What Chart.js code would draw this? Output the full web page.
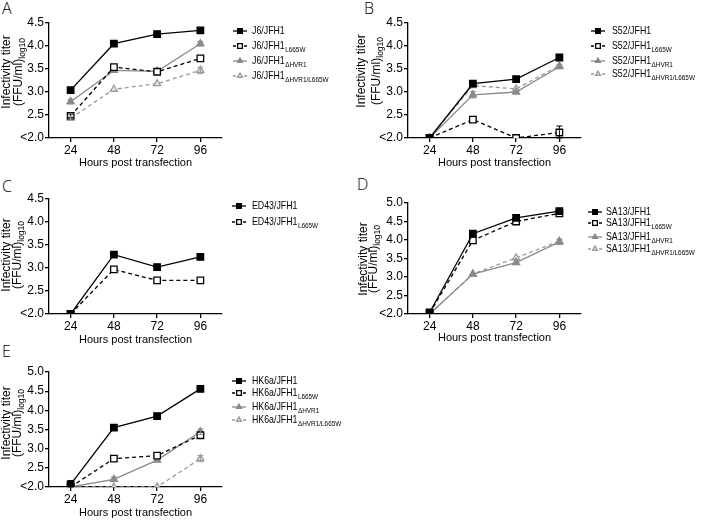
<!DOCTYPE html>
<html>
<head>
<meta charset="utf-8">
<script src="https://cdn.jsdelivr.net/npm/chart.js@4"></script>
<style>
  body { margin: 0; background: #fff; width: 704px; height: 520px; position: relative; overflow: hidden;
         font-family: 'Liberation Sans', Arial, sans-serif; }
  canvas { position: absolute; }
  .tag { position: absolute; font-family: 'Open Sans', 'Liberation Sans', sans-serif; font-weight: 300;
         font-size: 16px; line-height: 18px; color: #000; }
</style>
</head>
<body>
<div class="tag" style="left:2px;top:-1px">A</div>
<div class="tag" style="left:364px;top:-1px">B</div>
<div class="tag" style="left:2px;top:177px">C</div>
<div class="tag" style="left:357px;top:175px">D</div>
<div class="tag" style="left:2px;top:342px">E</div>

<canvas id="chartA" width="352" height="170" style="left:0;top:0"></canvas>
<canvas id="chartB" width="352" height="170" style="left:352px;top:0"></canvas>
<canvas id="chartC" width="352" height="177" style="left:0;top:170px"></canvas>
<canvas id="chartD" width="352" height="175" style="left:352px;top:170px"></canvas>
<canvas id="chartE" width="352" height="180" style="left:0;top:340px"></canvas>

<script>
// x positions (hours post transfection)
const hours = [24, 48, 72, 96];
const variantSubs = ['', 'L665W', '\u0394HVR1', '\u0394HVR1/L665W'];

// A: J6/JFH1
const aName = 'J6/JFH1';
const aWT = [3.04, 4.05, 4.26, 4.34];
const aL665W = [2.48, 3.54, 3.44, 3.73];
const aHVR1 = [2.79, 3.47, 3.45, 4.05];
const aHVR1L665W = [2.43, 3.06, 3.18, 3.47];
const aWTErr = [0, 0, 0, 0];
const aL665WErr = [0.04, 0, 0, 0];
const aHVR1Err = [0.05, 0, 0, 0.05];
const aHVR1L665WErr = [0.04, 0, 0, 0.07];

// B: S52/JFH1
const bName = 'S52/JFH1';
const bWT = [2.0, 3.18, 3.28, 3.75];
const bL665W = [2.0, 2.40, 2.0, 2.12];
const bHVR1 = [2.0, 2.94, 3.0, 3.55];
const bHVR1L665W = [2.0, 3.14, 3.07, 3.57];
const bWTErr = [0, 0, 0, 0.05];
const bL665WErr = [0, 0, 0, 0.14];
const bHVR1Err = [0, 0.07, 0, 0.04];
const bHVR1L665WErr = [0, 0, 0, 0];

// C: ED43/JFH1
const cName = 'ED43/JFH1';
const cWT = [2.0, 3.29, 3.02, 3.24];
const cL665W = [2.0, 2.97, 2.73, 2.73];

// D: SA13/JFH1
const dName = 'SA13/JFH1';
const dWT = [2.04, 4.17, 4.6, 4.78];
const dL665W = [2.02, 3.99, 4.5, 4.72];
const dHVR1 = [2.0, 3.08, 3.39, 3.95];
const dHVR1L665W = [2.0, 3.08, 3.52, 3.97];
const dHVR1Err = [0, 0, 0, 0.07];

// E: HK6a/JFH1
const eName = 'HK6a/JFH1';
const eWT = [2.07, 3.55, 3.85, 4.56];
const eL665W = [2.0, 2.74, 2.82, 3.35];
const eHVR1 = [2.0, 2.2, 2.7, 3.44];
const eHVR1L665W = [2.0, 2.0, 2.0, 2.74];
const eWTErr = [0.1, 0, 0, 0];
const eHVR1Err = [0, 0.06, 0, 0.07];
const eHVR1L665WErr = [0, 0, 0, 0.08];

const noErr = [0, 0, 0, 0];

// line / marker style of the four variants
const styles = [
  { color: '#000', fill: '#000', dash: [], shape: 'rect', r: 4.6 },
  { color: '#000', fill: '#fff', dash: [4, 3], shape: 'rect', r: 4.6 },
  { color: '#8a8a8a', fill: '#8a8a8a', dash: [], shape: 'triangle', r: 4 },
  { color: '#9a9a9a', fill: '#e4e4e4', dash: [4, 3], shape: 'triangle', r: 4 }
];

const FONT = "'Liberation Sans', Arial, sans-serif";

function makeDataset(name, idx, values, errors) {
  const s = styles[idx];
  return {
    label: name + variantSubs[idx],
    styleIdx: idx,
    name: name,
    data: hours.map((h, i) => ({ x: h, y: values[i] })),
    errors: errors,
    borderColor: s.color,
    borderWidth: 1.3,
    borderDash: s.dash,
    pointStyle: s.shape,
    pointRadius: s.r,
    pointBackgroundColor: s.fill,
    pointBorderColor: s.color,
    pointBorderWidth: 1.3,
    tension: 0
  };
}

// error bars, y-axis title with subscript, legend with subscripts
const extrasPlugin = {
  id: 'extras',
  afterDatasetsDraw(chart) {
    const ctx = chart.ctx;
    const yScale = chart.scales.y;
    chart.data.datasets.forEach((ds, di) => {
      const meta = chart.getDatasetMeta(di);
      meta.data.forEach((pt, i) => {
        const e = ds.errors[i];
        if (!e) return;
        const v = ds.data[i].y;
        const yTop = yScale.getPixelForValue(v + e);
        const yBot = yScale.getPixelForValue(Math.max(v - e, yScale.min));
        ctx.save();
        ctx.strokeStyle = ds.borderColor;
        ctx.lineWidth = 1;
        ctx.beginPath();
        ctx.moveTo(pt.x, yTop); ctx.lineTo(pt.x, yBot);
        ctx.moveTo(pt.x - 3, yTop); ctx.lineTo(pt.x + 3, yTop);
        ctx.moveTo(pt.x - 3, yBot); ctx.lineTo(pt.x + 3, yBot);
        ctx.stroke();
        ctx.restore();
      });
    });
  },
  afterDraw(chart, args, opts) {
    const ctx = chart.ctx;
    // y title
    ctx.save();
    ctx.fillStyle = '#000';
    ctx.textBaseline = 'middle';
    ctx.font = '12px ' + FONT;
    ctx.translate(opts.titleX1, opts.titleY);
    ctx.rotate(-Math.PI / 2);
    ctx.textAlign = 'center';
    ctx.fillText('Infectivity titer', 0, 0);
    ctx.restore();

    ctx.save();
    ctx.fillStyle = '#000';
    ctx.textBaseline = 'middle';
    ctx.translate(opts.titleX2, opts.titleY);
    ctx.rotate(-Math.PI / 2);
    ctx.font = '12px ' + FONT;
    const w1 = ctx.measureText('(FFU/ml)').width;
    ctx.font = '8.5px ' + FONT;
    const w2 = ctx.measureText('log10').width;
    const start = -(w1 + w2) / 2;
    ctx.textAlign = 'left';
    ctx.font = '12px ' + FONT;
    ctx.fillText('(FFU/ml)', start, 0);
    ctx.font = '8.5px ' + FONT;
    ctx.fillText('log10', start + w1, 3.5);
    ctx.restore();

    // legend
    chart.data.datasets.forEach((ds, i) => {
      const s = styles[ds.styleIdx];
      const sub = variantSubs[ds.styleIdx];
      const y = opts.legendY[i];
      const x = opts.legendX;
      ctx.save();
      ctx.strokeStyle = ds.borderColor;
      ctx.lineWidth = 1.3;
      ctx.setLineDash(s.dash.length ? [3, 2.5] : []);
      ctx.beginPath();
      ctx.moveTo(x - 7, y); ctx.lineTo(x + 7, y);
      ctx.stroke();
      ctx.setLineDash([]);
      ctx.fillStyle = s.fill;
      ctx.strokeStyle = s.color;
      Chart.helpers.drawPoint(ctx, { pointStyle: s.shape, radius: s.r * 0.72, borderWidth: 1.2, rotation: 0 }, x, y);
      // text, slightly condensed like the original figure
      ctx.translate(opts.textX, y);
      ctx.scale(0.8, 1);
      ctx.fillStyle = '#000';
      ctx.textBaseline = 'middle';
      ctx.textAlign = 'left';
      ctx.font = '11px ' + FONT;
      ctx.fillText(ds.name, 0, 0);
      if (sub) {
        const w = ctx.measureText(ds.name).width;
        ctx.font = '8px ' + FONT;
        ctx.fillText(sub, w + 0.5, 3.5);
      }
      ctx.restore();
    });
  }
};

function makePanel(id, datasets, yMax, geo) {
  new Chart(document.getElementById(id), {
    type: 'line',
    data: { datasets: datasets },
    plugins: [extrasPlugin],
    options: {
      responsive: false,
      animation: false,
      layout: { padding: { top: geo.padTop, right: geo.padRight, left: 0, bottom: 0 } },
      plugins: {
        legend: { display: false },
        tooltip: { enabled: false },
        extras: geo
      },
      scales: {
        x: {
          type: 'linear',
          min: 12,
          max: 108,
          afterBuildTicks: (scale) => { scale.ticks = hours.map(h => ({ value: h })); },
          afterFit: (scale) => { scale.height = geo.xHeight; },
          border: { color: '#000', width: 1.3 },
          grid: { drawOnChartArea: false, color: '#000', tickLength: 4, lineWidth: 1.3 },
          ticks: { color: '#000', font: { family: FONT, size: 12 }, padding: 1, maxRotation: 0 },
          title: { display: true, text: 'Hours post transfection', color: '#000',
                   font: { family: FONT, size: 11 }, padding: { top: 0, bottom: 0 } }
        },
        y: {
          min: 2,
          max: yMax,
          afterFit: (scale) => { scale.width = geo.yWidth; },
          border: { color: '#000', width: 1.3 },
          grid: { drawOnChartArea: false, color: '#000', tickLength: 4, lineWidth: 1.3 },
          ticks: {
            stepSize: 0.5,
            color: '#000',
            font: { family: FONT, size: 12 },
            padding: 1,
            callback: (v) => v === 2 ? '<2.0' : v.toFixed(1)
          }
        }
      }
    }
  });
}

makePanel('chartA', [
  makeDataset(aName, 0, aWT, aWTErr),
  makeDataset(aName, 1, aL665W, aL665WErr),
  makeDataset(aName, 2, aHVR1, aHVR1Err),
  makeDataset(aName, 3, aHVR1L665W, aHVR1L665WErr)
], 4.5, { padTop: 23, padRight: 130, yWidth: 49, xHeight: 32,
          titleX1: 7, titleX2: 19, titleY: 72, legendX: 240, textX: 252, legendY: [31, 46, 61, 76] });

makePanel('chartB', [
  makeDataset(bName, 0, bWT, bWTErr),
  makeDataset(bName, 1, bL665W, bL665WErr),
  makeDataset(bName, 2, bHVR1, bHVR1Err),
  makeDataset(bName, 3, bHVR1L665W, bHVR1L665WErr)
], 4.5, { padTop: 23, padRight: 123, yWidth: 56, xHeight: 32,
          titleX1: 10, titleX2: 25, titleY: 71, legendX: 246, textX: 260, legendY: [31, 46, 61, 74] });

makePanel('chartC', [
  makeDataset(cName, 0, cWT, noErr),
  makeDataset(cName, 1, cL665W, noErr)
], 4.5, { padTop: 29, padRight: 130, yWidth: 49, xHeight: 33,
          titleX1: 7, titleX2: 18, titleY: 85, legendX: 239, textX: 252, legendY: [36, 52] });

makePanel('chartD', [
  makeDataset(dName, 0, dWT, noErr),
  makeDataset(dName, 1, dL665W, noErr),
  makeDataset(dName, 2, dHVR1, dHVR1Err),
  makeDataset(dName, 3, dHVR1L665W, noErr)
], 5.0, { padTop: 33, padRight: 123, yWidth: 56, xHeight: 31,
          titleX1: 12, titleX2: 22, titleY: 89, legendX: 243, textX: 254, legendY: [42, 53, 67, 79] });

makePanel('chartE', [
  makeDataset(eName, 0, eWT, eWTErr),
  makeDataset(eName, 1, eL665W, noErr),
  makeDataset(eName, 2, eHVR1, eHVR1Err),
  makeDataset(eName, 3, eHVR1L665W, eHVR1L665WErr)
], 5.0, { padTop: 32, padRight: 130, yWidth: 49, xHeight: 33,
          titleX1: 7, titleX2: 18, titleY: 83, legendX: 239, textX: 252, legendY: [41, 53, 67, 80] });
</script>
</body>
</html>
